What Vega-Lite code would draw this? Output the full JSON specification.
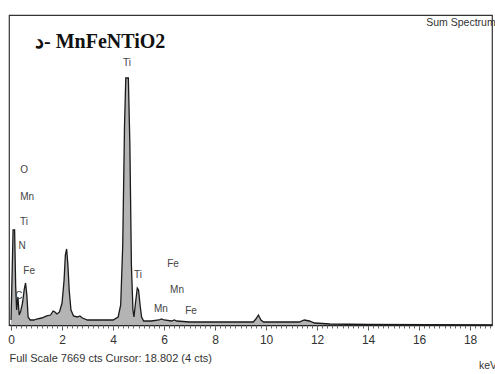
{
  "$schema": "https://vega.github.io/schema/vega-lite/v6.json",
  "width": 483,
  "height": 310,
  "autosize": {"type": "none"},
  "padding": {"left": 9, "top": 15, "right": 3, "bottom": 49},
  "background": "white",
  "config": {
    "view": {"stroke": "#333", "strokeWidth": 1.2},
    "font": "Liberation Sans"
  },
  "datasets": {
    "spectrum": [
      {"keV": 0.0, "cts": 124}, {"keV": 0.05, "cts": 1484}, {"keV": 0.08, "cts": 2350}, {"keV": 0.14, "cts": 2350},
      {"keV": 0.18, "cts": 990}, {"keV": 0.22, "cts": 371}, {"keV": 0.27, "cts": 693}, {"keV": 0.32, "cts": 247},
      {"keV": 0.38, "cts": 346}, {"keV": 0.45, "cts": 544}, {"keV": 0.52, "cts": 890}, {"keV": 0.57, "cts": 1039},
      {"keV": 0.62, "cts": 742}, {"keV": 0.67, "cts": 198}, {"keV": 0.75, "cts": 124}, {"keV": 0.9, "cts": 124},
      {"keV": 1.0, "cts": 148}, {"keV": 1.2, "cts": 173}, {"keV": 1.4, "cts": 223}, {"keV": 1.55, "cts": 247},
      {"keV": 1.65, "cts": 346}, {"keV": 1.72, "cts": 322}, {"keV": 1.8, "cts": 272}, {"keV": 1.9, "cts": 322},
      {"keV": 2.0, "cts": 544}, {"keV": 2.08, "cts": 1113}, {"keV": 2.13, "cts": 1732}, {"keV": 2.18, "cts": 1880},
      {"keV": 2.23, "cts": 1484}, {"keV": 2.28, "cts": 866}, {"keV": 2.35, "cts": 371}, {"keV": 2.45, "cts": 223},
      {"keV": 2.6, "cts": 198}, {"keV": 2.7, "cts": 223}, {"keV": 2.8, "cts": 173}, {"keV": 3.0, "cts": 124},
      {"keV": 3.5, "cts": 124}, {"keV": 4.0, "cts": 124}, {"keV": 4.2, "cts": 198}, {"keV": 4.3, "cts": 495},
      {"keV": 4.38, "cts": 1979}, {"keV": 4.45, "cts": 4948}, {"keV": 4.5, "cts": 6111}, {"keV": 4.6, "cts": 6111},
      {"keV": 4.66, "cts": 4453}, {"keV": 4.72, "cts": 1484}, {"keV": 4.78, "cts": 371}, {"keV": 4.82, "cts": 198},
      {"keV": 4.88, "cts": 544}, {"keV": 4.95, "cts": 915}, {"keV": 5.0, "cts": 866}, {"keV": 5.06, "cts": 495},
      {"keV": 5.12, "cts": 198}, {"keV": 5.2, "cts": 99}, {"keV": 5.5, "cts": 99}, {"keV": 5.8, "cts": 124},
      {"keV": 5.9, "cts": 148}, {"keV": 6.0, "cts": 124}, {"keV": 6.3, "cts": 99}, {"keV": 6.4, "cts": 124},
      {"keV": 6.5, "cts": 99}, {"keV": 7.0, "cts": 74}, {"keV": 8.0, "cts": 74}, {"keV": 9.0, "cts": 74},
      {"keV": 9.5, "cts": 74}, {"keV": 9.6, "cts": 148}, {"keV": 9.7, "cts": 247}, {"keV": 9.8, "cts": 124},
      {"keV": 9.9, "cts": 74}, {"keV": 11.0, "cts": 74}, {"keV": 11.3, "cts": 74}, {"keV": 11.5, "cts": 124},
      {"keV": 11.7, "cts": 99}, {"keV": 11.9, "cts": 49}, {"keV": 12.5, "cts": 25}, {"keV": 14.0, "cts": 12},
      {"keV": 18.86, "cts": 0}
    ],
    "elements": [
      {"keV": 0.51, "cts": 3835, "label": "O"},
      {"keV": 0.63, "cts": 3167, "label": "Mn"},
      {"keV": 0.51, "cts": 2548, "label": "Ti"},
      {"keV": 0.43, "cts": 1954, "label": "N"},
      {"keV": 0.71, "cts": 1336, "label": "Fe"},
      {"keV": 0.31, "cts": 717, "label": "C"},
      {"keV": 4.55, "cts": 6482, "label": "Ti"},
      {"keV": 4.98, "cts": 1237, "label": "Ti"},
      {"keV": 6.35, "cts": 1509, "label": "Fe"},
      {"keV": 6.51, "cts": 866, "label": "Mn"},
      {"keV": 5.88, "cts": 396, "label": "Mn"},
      {"keV": 7.06, "cts": 346, "label": "Fe"}
    ],
    "heading": [{"keV": 0.94, "cts": 7001, "label": "د- MnFeNTiO2"}],
    "corner": [{"keV": 16.28, "cts": 7470, "label": "Sum Spectrum"}],
    "unit": [{"keV": 18.35, "cts": -1010, "label": "keV"}]
  },
  "resolve": {"axis": {"x": "independent"}},
  "layer": [
    {
      "data": {"name": "spectrum"},
      "mark": {"type": "area", "color": "#b4b4b4", "interpolate": "linear"},
      "encoding": {
        "x": {
          "field": "keV", "type": "quantitative",
          "scale": {"domain": [-0.08, 18.86], "nice": false, "zero": false},
          "axis": {
            "orient": "bottom",
            "values": [0, 2, 4, 6, 8, 10, 12, 14, 16, 18],
            "labelOverlap": false,
            "labelFlush": false,
            "labelFont": "Liberation Sans",
            "labelFontSize": 12,
            "labelColor": "#333",
            "labelPadding": 4,
            "tickColor": "#555",
            "tickSize": 5,
            "domainColor": "#222",
            "domainWidth": 1.5,
            "grid": false,
            "title": "Full Scale 7669 cts Cursor: 18.802  (4 cts)",
            "titleFont": "Liberation Sans",
            "titleFontSize": 11,
            "titleFontWeight": "normal",
            "titleColor": "#333",
            "titleAnchor": "start",
            "titleAlign": "left",
            "titlePadding": 7
          }
        },
        "y": {
          "field": "cts", "type": "quantitative",
          "scale": {"domain": [0, 7669], "nice": false},
          "axis": null
        }
      }
    },
    {
      "data": {"name": "spectrum"},
      "mark": {"type": "line", "color": "#1a1a1a", "strokeWidth": 1.3},
      "encoding": {
        "x": {
          "field": "keV", "type": "quantitative",
          "axis": {
            "orient": "bottom",
            "values": [0,0.2,0.4,0.6,0.8,1,1.2,1.4,1.6,1.8,2,2.2,2.4,2.6,2.8,3,3.2,3.4,3.6,3.8,4,4.2,4.4,4.6,4.8,5,5.2,5.4,5.6,5.8,6,6.2,6.4,6.6,6.8,7,7.2,7.4,7.6,7.8,8,8.2,8.4,8.6,8.8,9,9.2,9.4,9.6,9.8,10,10.2,10.4,10.6,10.8,11,11.2,11.4,11.6,11.8,12,12.2,12.4,12.6,12.8,13,13.2,13.4,13.6,13.8,14,14.2,14.4,14.6,14.8,15,15.2,15.4,15.6,15.8,16,16.2,16.4,16.6,16.8,17,17.2,17.4,17.6,17.8,18,18.2,18.4,18.6,18.8],
            "labels": false,
            "domain": false,
            "grid": false,
            "tickColor": "#666",
            "tickSize": 3,
            "title": null
          }
        },
        "y": {"field": "cts", "type": "quantitative"}
      }
    },
    {
      "data": {"name": "elements"},
      "mark": {"type": "text", "font": "Liberation Sans", "fontSize": 10, "color": "#444", "align": "center", "baseline": "middle"},
      "encoding": {
        "x": {"field": "keV", "type": "quantitative", "axis": null},
        "y": {"field": "cts", "type": "quantitative"},
        "text": {"field": "label"}
      }
    },
    {
      "data": {"name": "heading"},
      "mark": {"type": "text", "font": "Liberation Serif", "fontWeight": "bold", "fontSize": 20, "color": "#111", "align": "left", "baseline": "middle"},
      "encoding": {
        "x": {"field": "keV", "type": "quantitative", "axis": null},
        "y": {"field": "cts", "type": "quantitative"},
        "text": {"field": "label"}
      }
    },
    {
      "data": {"name": "corner"},
      "mark": {"type": "text", "font": "Liberation Sans", "fontSize": 10.5, "color": "#333", "align": "left", "baseline": "middle"},
      "encoding": {
        "x": {"field": "keV", "type": "quantitative", "axis": null},
        "y": {"field": "cts", "type": "quantitative"},
        "text": {"field": "label"}
      }
    },
    {
      "data": {"name": "unit"},
      "mark": {"type": "text", "font": "Liberation Sans", "fontSize": 10.5, "color": "#333", "align": "left", "baseline": "middle"},
      "encoding": {
        "x": {"field": "keV", "type": "quantitative", "axis": null},
        "y": {"field": "cts", "type": "quantitative"},
        "text": {"field": "label"}
      }
    }
  ]
}
